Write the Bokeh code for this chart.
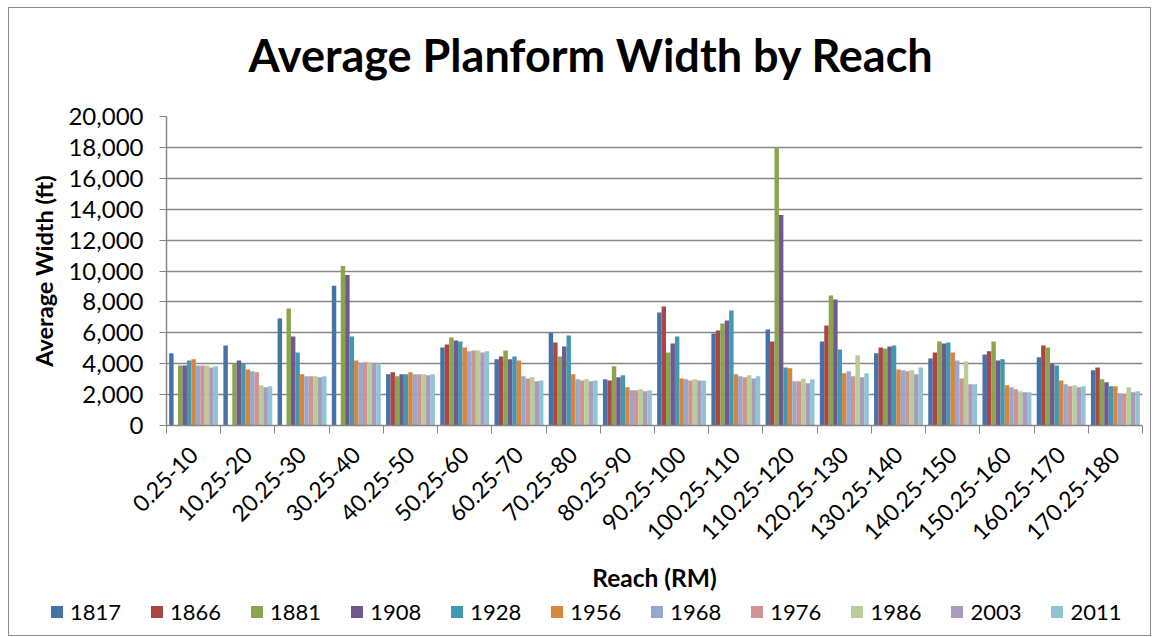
import math
from bokeh.plotting import figure
from bokeh.layouts import column
from bokeh.models import (ColumnDataSource, Range1d, FixedTicker, NumeralTickFormatter,
                          Legend, LegendItem)
from bokeh.transform import dodge
from bokeh.embed import file_html
from bokeh.resources import INLINE

nan = float("nan")

reaches = ["0.25-10", "10.25-20", "20.25-30", "30.25-40", "40.25-50", "50.25-60",
           "60.25-70", "70.25-80", "80.25-90", "90.25-100", "100.25-110", "110.25-120",
           "120.25-130", "130.25-140", "140.25-150", "150.25-160", "160.25-170", "170.25-180"]

years = ["1817", "1866", "1881", "1908", "1928", "1956", "1968", "1976", "1986", "2003", "2011"]

w1817 = [4670, 5180, 6925, 9050, 3310, 5050, 4280, 5980, 2990, 7310, 5960, 6215, 5440, 4670, 4340, 4600, 4410, 3570]
w1866 = [nan, nan, nan, nan, 3440, 5250, 4470, 5380, 2920, 7700, 6150, 5440, 6470, 5050, 4730, 4800, 5180, 3760]
w1881 = [3890, 4000, 7570, 10320, 3180, 5700, 4860, 4470, 3830, 4730, 6600, 18000, 8410, 4990, 5440, 5440, 5050, 2990]
w1908 = [3890, 4215, 5760, 9740, 3310, 5500, 4280, 5120, 3120, 5310, 6800, 13630, 8150, 5120, 5310, 4215, 4020, 2800]
w1928 = [4215, 4000, 4730, 5760, 3310, 5440, 4470, 5830, 3250, 5760, 7440, 3760, 4920, 5180, 5380, 4280, 3890, 2540]
w1956 = [4280, 3630, 3310, 4215, 3440, 5050, 4215, 3310, 2470, 3050, 3310, 3700, 3380, 3630, 4730, 2600, 2920, 2540]
w1968 = [3890, 3505, 3180, 4020, 3310, 4800, 3180, 2990, 2280, 2990, 3180, 2860, 3505, 3570, 4215, 2470, 2670, 2090]
w1976 = [3890, 3440, 3180, 4090, 3310, 4860, 3050, 2920, 2280, 2920, 3120, 2860, 3180, 3505, 3050, 2340, 2540, 2020]
w1986 = [3890, 2600, 3180, 4090, 3310, 4860, 3120, 2990, 2340, 2990, 3250, 3050, 4540, 3570, 4150, 2215, 2600, 2470]
w2003 = [3760, 2470, 3120, 4020, 3250, 4730, 2860, 2860, 2215, 2920, 3050, 2730, 3120, 3310, 2670, 2150, 2470, 2150]
w2011 = [3830, 2540, 3180, 4020, 3310, 4800, 2920, 2920, 2280, 2920, 3180, 2990, 3380, 3760, 2670, 2150, 2540, 2215]

series = [w1817, w1866, w1881, w1908, w1928, w1956, w1968, w1976, w1986, w2003, w2011]

colors = ["#4572A7", "#AA4643", "#89A54E", "#71588F", "#4198AF", "#DB843D",
          "#93A9CF", "#D19392", "#B9CD96", "#A99BBD", "#91C3D5"]

y_ticks = [0, 2000, 4000, 6000, 8000, 10000, 12000, 14000, 16000, 18000, 20000]

FONT = "Lato"
GRID = "#868686"
BORDER = "1px solid #8c8c8c"

centers = [i + 0.5 for i in range(len(reaches))]
data = {"x": centers}
for yr, vals in zip(years, series):
    data["y" + yr] = vals
src = ColumnDataSource(data)

# ---- title strip ----
pt = figure(width=1141, height=90, output_backend="svg", toolbar_location=None,
            x_range=Range1d(0, 1), y_range=Range1d(0, 1),
            x_axis_location=None, y_axis_location=None,
            min_border_left=157, min_border_right=8, min_border_top=73, min_border_bottom=0)
pt.outline_line_color = None
pt.xgrid.grid_line_color = None
pt.ygrid.grid_line_color = None
pt.title.text = "Average Planform Width by Reach"
pt.title.align = "left"
pt.title.text_font = FONT
pt.title.text_font_size = "45px"
pt.title.text_font_style = "bold"
pt.title.text_color = "black"
pt.title.offset = 82
pt.title.standoff = 0

# ---- main chart ----
p = figure(width=1141, height=496, output_backend="svg", toolbar_location=None,
           x_range=Range1d(0, len(reaches)), y_range=Range1d(0, 20000),
           min_border_left=157, min_border_right=8, min_border_top=18, min_border_bottom=167)
p.outline_line_color = None
p.background_fill_color = "white"
p.border_fill_color = "white"

bw = 0.082
for k, yr in enumerate(years):
    p.vbar(x=dodge("x", (k - 5) * bw), top="y" + yr, width=bw, source=src,
           fill_color=colors[k], line_color=None)

xa = p.xaxis[0]
xa.ticker = FixedTicker(ticks=centers, minor_ticks=list(range(len(reaches) + 1)))
xa.major_label_overrides = {c: lab for c, lab in zip(centers, reaches)}
xa.major_label_orientation = math.pi / 4
xa.major_tick_out = 0
xa.major_tick_in = 0
xa.minor_tick_out = 8
xa.minor_tick_in = 0
xa.minor_tick_line_color = GRID
xa.axis_line_color = GRID
xa.axis_line_width = 1.5
xa.major_label_text_font = FONT
xa.major_label_text_font_size = "23px"
xa.major_label_text_color = "black"
xa.major_label_standoff = 17
xa.axis_label = "Reach (RM)"
xa.axis_label_text_font = FONT
xa.axis_label_text_font_size = "24.5px"
xa.axis_label_text_font_style = "bold"
xa.axis_label_text_color = "black"
xa.axis_label_standoff = 12

ya = p.yaxis[0]
ya.ticker = FixedTicker(ticks=y_ticks)
ya.formatter = NumeralTickFormatter(format="0,0")
ya.major_tick_out = 7
ya.major_tick_in = 0
ya.minor_tick_out = 0
ya.minor_tick_in = 0
ya.major_tick_line_color = GRID
ya.axis_line_color = GRID
ya.axis_line_width = 1.5
ya.major_label_text_font = FONT
ya.major_label_text_font_size = "24px"
ya.major_label_text_color = "black"
ya.major_label_standoff = 16
ya.axis_label = "Average Width (ft)"
ya.axis_label_text_font = FONT
ya.axis_label_text_font_size = "23.5px"
ya.axis_label_text_font_style = "bold"
ya.axis_label_text_color = "black"
ya.axis_label_standoff = 7

p.xgrid.grid_line_color = None
p.ygrid.grid_line_color = GRID
p.ygrid.grid_line_width = 1.5
p.ygrid.ticker = FixedTicker(ticks=y_ticks)

# ---- legend strip (hidden copies of the series supply the key glyphs) ----
pl = figure(width=1141, height=41, output_backend="svg", toolbar_location=None,
            x_range=Range1d(0, len(reaches)), y_range=Range1d(0, 20000),
            x_axis_location=None, y_axis_location=None,
            min_border_left=0, min_border_right=0, min_border_top=0, min_border_bottom=0)
pl.outline_line_color = None
pl.xgrid.grid_line_color = None
pl.ygrid.grid_line_color = None
items = []
for k, yr in enumerate(years):
    r = pl.vbar(x="x", top="y" + yr, width=bw, source=src,
                fill_color=colors[k], line_color=None, visible=False)
    items.append(LegendItem(label=yr, renderers=[r]))
legend = Legend(items=items, orientation="horizontal", location=(40, 10),
                label_text_font=FONT, label_text_font_size="22px", label_text_color="black",
                glyph_width=15, glyph_height=15, label_standoff=6, spacing=28,
                padding=0, margin=0, border_line_color=None, background_fill_alpha=0,
                inactive_fill_alpha=0)
pl.add_layout(legend)

top = column(pt, p, spacing=0)
top.styles = {"border": BORDER, "border-bottom": "none", "background-color": "white"}
top.margin = (7, 0, 0, 8)

bottom = column(pl, spacing=0)
bottom.styles = {"border": BORDER, "border-top": "none", "background-color": "white"}
bottom.margin = (0, 0, 0, 8)

open("out.html", "w").write(file_html([top, bottom], INLINE))
